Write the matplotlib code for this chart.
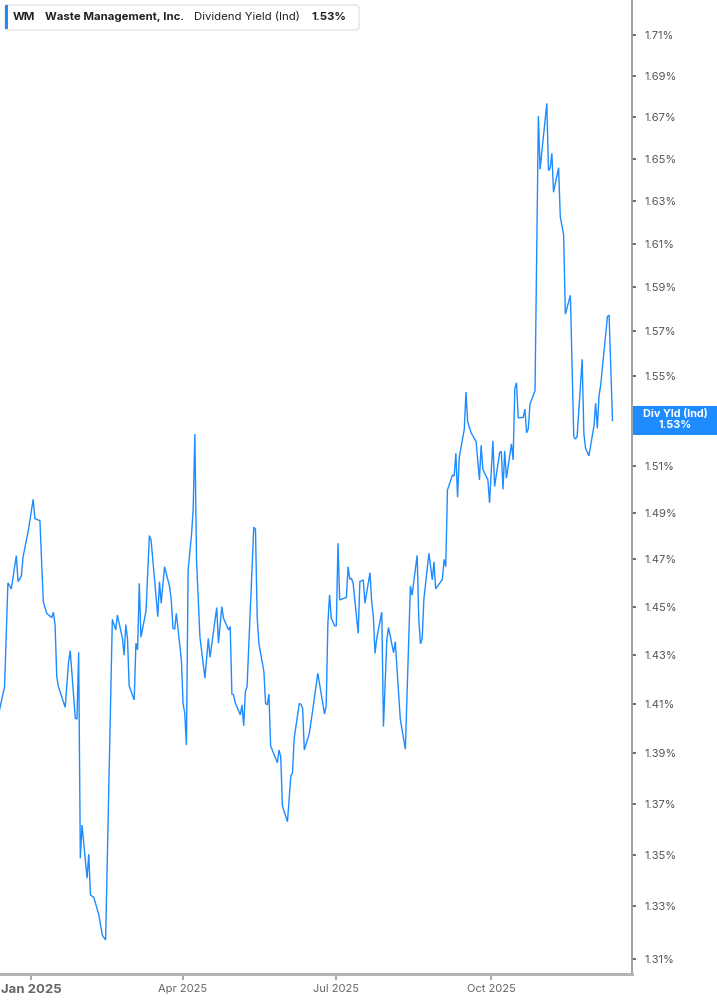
import matplotlib
matplotlib.use("Agg")
import matplotlib.pyplot as plt
import pandas as pd
from matplotlib.patches import FancyBboxPatch, Rectangle
from matplotlib.transforms import Affine2D
from matplotlib.ticker import FixedLocator, FixedFormatter, NullLocator

plt.rcParams['font.family'] = ['Inter', 'DejaVu Sans']

# ---------------- data ----------------
dates = [
    "2024-12-13", "2024-12-16", "2024-12-18", "2024-12-20", "2024-12-23", "2024-12-24",
    "2024-12-26", "2024-12-27", "2024-12-30", "2025-01-02", "2025-01-03", "2025-01-06",
    "2025-01-08", "2025-01-10", "2025-01-13", "2025-01-14", "2025-01-15", "2025-01-16",
    "2025-01-17", "2025-01-21", "2025-01-23", "2025-01-24", "2025-01-27", "2025-01-28",
    "2025-01-29", "2025-01-30", "2025-01-31", "2025-02-03", "2025-02-04", "2025-02-05",
    "2025-02-07", "2025-02-10", "2025-02-12", "2025-02-14", "2025-02-18", "2025-02-20",
    "2025-02-21", "2025-02-24", "2025-02-25", "2025-02-26", "2025-02-27", "2025-02-28",
    "2025-03-03", "2025-03-04", "2025-03-05", "2025-03-06", "2025-03-07", "2025-03-10",
    "2025-03-12", "2025-03-13", "2025-03-17", "2025-03-18", "2025-03-19", "2025-03-21",
    "2025-03-24", "2025-03-25", "2025-03-26", "2025-03-27", "2025-03-28", "2025-03-31",
    "2025-04-01", "2025-04-02", "2025-04-03", "2025-04-04", "2025-04-06", "2025-04-07",
    "2025-04-08", "2025-04-09", "2025-04-11", "2025-04-14", "2025-04-16", "2025-04-17",
    "2025-04-21", "2025-04-22", "2025-04-24", "2025-04-25", "2025-04-28", "2025-04-29",
    "2025-04-30", "2025-05-01", "2025-05-02", "2025-05-05", "2025-05-06", "2025-05-07",
    "2025-05-08", "2025-05-09", "2025-05-13", "2025-05-14", "2025-05-15", "2025-05-16",
    "2025-05-19", "2025-05-20", "2025-05-21", "2025-05-22", "2025-05-23", "2025-05-27",
    "2025-05-28", "2025-05-29", "2025-05-30", "2025-06-02", "2025-06-04", "2025-06-05",
    "2025-06-06", "2025-06-09", "2025-06-10", "2025-06-11", "2025-06-12", "2025-06-15",
    "2025-06-17", "2025-06-20", "2025-06-24", "2025-06-25", "2025-06-26", "2025-06-27",
    "2025-06-28", "2025-06-30", "2025-07-01", "2025-07-02", "2025-07-03", "2025-07-07",
    "2025-07-08", "2025-07-09", "2025-07-10", "2025-07-11", "2025-07-14", "2025-07-15",
    "2025-07-17", "2025-07-18", "2025-07-21", "2025-07-22", "2025-07-23", "2025-07-24",
    "2025-07-25", "2025-07-28", "2025-07-29", "2025-07-31", "2025-08-01", "2025-08-04",
    "2025-08-05", "2025-08-08", "2025-08-11", "2025-08-13", "2025-08-14", "2025-08-15",
    "2025-08-18", "2025-08-19", "2025-08-20", "2025-08-21", "2025-08-22", "2025-08-25",
    "2025-08-27", "2025-08-28", "2025-08-29", "2025-09-02", "2025-09-03", "2025-09-04",
    "2025-09-05", "2025-09-08", "2025-09-09", "2025-09-10", "2025-09-11", "2025-09-12",
    "2025-09-15", "2025-09-16", "2025-09-17", "2025-09-19", "2025-09-22", "2025-09-24",
    "2025-09-25", "2025-09-26", "2025-09-29", "2025-09-30", "2025-10-02", "2025-10-03",
    "2025-10-06", "2025-10-07", "2025-10-08", "2025-10-09", "2025-10-10", "2025-10-13",
    "2025-10-14", "2025-10-15", "2025-10-16", "2025-10-17", "2025-10-20", "2025-10-21",
    "2025-10-22", "2025-10-23", "2025-10-24", "2025-10-27", "2025-10-29", "2025-10-30",
    "2025-11-03", "2025-11-04", "2025-11-05", "2025-11-06", "2025-11-07", "2025-11-10",
    "2025-11-11", "2025-11-13", "2025-11-14", "2025-11-17", "2025-11-19", "2025-11-20",
    "2025-11-21", "2025-11-24", "2025-11-25", "2025-11-26", "2025-11-28", "2025-12-01",
    "2025-12-02", "2025-12-03", "2025-12-04", "2025-12-05", "2025-12-09", "2025-12-10",
    "2025-12-12",
]

div_yield = [
    1.4075, 1.4170, 1.4601, 1.4575, 1.4716, 1.4606,
    1.4630, 1.4711, 1.4818, 1.4957, 1.4874, 1.4865,
    1.4522, 1.4473, 1.4455, 1.4478, 1.4425, 1.4211,
    1.4170, 1.4086, 1.4270, 1.4318, 1.4042, 1.4038,
    1.4311, 1.3486, 1.3616, 1.3409, 1.3502, 1.3344,
    1.3335, 1.3268, 1.3191, 1.3172, 1.4448, 1.4404,
    1.4466, 1.4369, 1.4299, 1.4426, 1.4369, 1.4173,
    1.4116, 1.4349, 1.4321, 1.4599, 1.4374, 1.4483,
    1.4801, 1.4783, 1.4459, 1.4606, 1.4515, 1.4669,
    1.4585, 1.4529, 1.4411, 1.4407, 1.4473, 1.4280,
    1.4102, 1.4062, 1.3934, 1.4655, 1.4804, 1.4911,
    1.5241, 1.4697, 1.4376, 1.4205, 1.4369, 1.4291,
    1.4497, 1.4349, 1.4501, 1.4453, 1.4404, 1.4418,
    1.4140, 1.4136, 1.4105, 1.4055, 1.4096, 1.4011,
    1.4150, 1.4170, 1.4837, 1.4828, 1.4459, 1.4349,
    1.4232, 1.4102, 1.4096, 1.4140, 1.3930, 1.3863,
    1.3914, 1.3887, 1.3691, 1.3629, 1.3810, 1.3823,
    1.3961, 1.4102, 1.4098, 1.4082, 1.3914, 1.3981,
    1.4075, 1.4225, 1.4059, 1.4092, 1.4432, 1.4550,
    1.4453, 1.4421, 1.4421, 1.4769, 1.4529, 1.4540,
    1.4669, 1.4616, 1.4620, 1.4599, 1.4390, 1.4606,
    1.4613, 1.4515, 1.4644, 1.4522, 1.4459, 1.4307,
    1.4369, 1.4478, 1.4008, 1.4362, 1.4414, 1.4310,
    1.4355, 1.4038, 1.3917, 1.4355, 1.4588, 1.4549,
    1.4717, 1.4446, 1.4346, 1.4369, 1.4532, 1.4726,
    1.4613, 1.4690, 1.4575, 1.4616, 1.4700, 1.4669,
    1.4997, 1.5062, 1.5058, 1.5157, 1.4966, 1.5139,
    1.5262, 1.5427, 1.5295, 1.5247, 1.5208, 1.5041,
    1.5192, 1.5087, 1.5041, 1.4942, 1.5211, 1.5012,
    1.5160, 1.5164, 1.5000, 1.5167, 1.5048, 1.5198,
    1.5128, 1.5444, 1.5468, 1.5313, 1.5314, 1.5351,
    1.5246, 1.5264, 1.5372, 1.5433, 1.6705, 1.6450,
    1.6766, 1.6444, 1.6455, 1.6526, 1.6342, 1.6458,
    1.6227, 1.6142, 1.5777, 1.5863, 1.5230, 1.5219,
    1.5230, 1.5573, 1.5244, 1.5179, 1.5145, 1.5276,
    1.5377, 1.5266, 1.5409, 1.5458, 1.5766, 1.5773,
    1.5300,
]

ytick_values = [1.31, 1.33, 1.35, 1.37, 1.39, 1.41, 1.43, 1.45, 1.47, 1.49, 1.51,
                1.53, 1.55, 1.57, 1.59, 1.61, 1.63, 1.65, 1.67, 1.69, 1.71]
xtick_dates = ["2025-01-01", "2025-04-01", "2025-07-01", "2025-10-01"]
xtick_labels = ["Jan 2025", "Apr 2025", "Jul 2025", "Oct 2025"]

ticker = "WM"
company = "Waste Management, Inc."
metric = "Dividend Yield (Ind)"
last_value = "1.53%"
badge_title = "Div Yld (Ind)"

# ---------------- style ----------------
LINE = "#1E8BFF"
W, H = 717, 1005

fig = plt.figure(figsize=(W / 100, H / 100), dpi=100)
fig.patch.set_facecolor("white")
ax = fig.add_axes([0, 1 - 974 / H, 632 / W, 974 / H])

ax.plot(pd.to_datetime(dates), div_yield, color=LINE, lw=1.0, solid_joinstyle="miter")

ax.set_yscale("log")
ax.set_ylim(1.30435, 1.7273)
ax.set_xlim(pd.Timestamp("2024-12-13 07:05"), pd.Timestamp("2025-12-23 14:10"))

# the 1.53% tick label sits under the value badge, so it is left blank
ylabels = ["" if f"{v:.2f}%" == last_value else f"{v:.2f}%" for v in ytick_values]
ax.yaxis.tick_right()
ax.yaxis.set_major_locator(FixedLocator(ytick_values))
ax.yaxis.set_major_formatter(FixedFormatter(ylabels))
ax.yaxis.set_minor_locator(NullLocator())
ax.tick_params(axis="y", which="major", direction="out", length=3, width=1.2,
               color="#555555", labelsize=8, labelcolor="#555555", pad=6)

xt = pd.to_datetime(xtick_dates)
ax.set_xticks(xt)
ax.set_xticklabels(xtick_labels)
ax.xaxis.set_minor_locator(NullLocator())
ax.tick_params(axis="x", which="major", direction="out", length=4, width=1.2,
               color="#999999", labelsize=8, labelcolor="#666666", pad=3)
lbls = ax.get_xticklabels()
lbls[0].set_fontweight("bold")
lbls[0].set_fontsize(9.5)

for s in ("left", "top"):
    ax.spines[s].set_visible(False)
ax.spines["right"].set_color("#999999")
ax.spines["right"].set_linewidth(1.3)
ax.spines["bottom"].set_color("#b4b4b4")
ax.spines["bottom"].set_linewidth(2.2)
ax.set_facecolor("white")

# pixel transform (origin top-left)
pt = Affine2D().scale(1 / W, -1 / H).translate(0, 1) + fig.transFigure

# header box
hdr = FancyBboxPatch((5, 5), 354, 25, boxstyle="round,pad=0,rounding_size=3",
                     fc="white", ec="#e4e4e4", lw=1.0, transform=pt, zorder=5)
fig.add_artist(hdr)
fig.add_artist(Rectangle((4.5, 5.5), 3, 24, fc=LINE, ec="none", transform=pt, zorder=6))
ty = 16.8
hfs = 8.2
fig.text(13, ty, ticker, transform=pt, va="center", ha="left", fontsize=hfs,
         fontweight="bold", color="#222222", zorder=7)
fig.text(45, ty, company, transform=pt, va="center", ha="left", fontsize=hfs,
         fontweight="bold", color="#222222", zorder=7)
fig.text(194, ty, metric, transform=pt, va="center", ha="left", fontsize=hfs,
         color="#222222", zorder=7)
fig.text(311, ty, last_value, transform=pt, va="center", ha="left", fontsize=hfs,
         fontweight="bold", color="#222222", zorder=7)

# right value badge
fig.add_artist(Rectangle((632.5, 406), 85, 29, fc=LINE, ec="none", transform=pt, zorder=5))
fig.text(675, 414.5, badge_title, transform=pt, va="center", ha="center", fontsize=7.8,
         fontweight="bold", color="white", zorder=7)
fig.text(675, 425.5, last_value, transform=pt, va="center", ha="center", fontsize=7.8,
         fontweight="bold", color="white", zorder=7)

fig.savefig("out.png", dpi=100, facecolor="white")
